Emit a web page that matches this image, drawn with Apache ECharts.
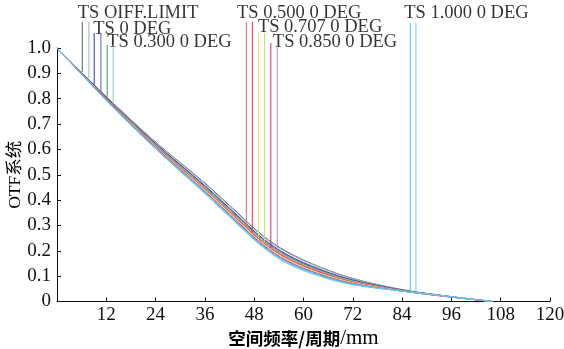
<!DOCTYPE html>
<html>
<head>
<meta charset="utf-8">
<script src="https://cdn.jsdelivr.net/npm/echarts@6/dist/echarts.min.js"></script>
<style>
  html, body { margin: 0; padding: 0; background: #fff; }
  #main { width: 564px; height: 349px; }
</style>
</head>
<body>
<div id="main"></div>
<script>
// 空间频率 (周期/mm)
var freq = [0, 12, 24, 36, 44, 50, 56, 64, 72, 84, 96, 106];

// 各视场 T / S 的 MTF 读数
var mtfDiffT = [1.0, 0.808, 0.629, 0.467, 0.349, 0.261, 0.196, 0.136, 0.091, 0.047, 0.019, 0];
var mtfDiffS = [1.0, 0.807, 0.628, 0.464, 0.346, 0.258, 0.193, 0.134, 0.090, 0.046, 0.019, 0];
var mtf0T    = [1.0, 0.805, 0.623, 0.457, 0.338, 0.250, 0.185, 0.127, 0.085, 0.045, 0.019, 0];
var mtf0S    = [1.0, 0.803, 0.621, 0.454, 0.335, 0.247, 0.182, 0.125, 0.084, 0.045, 0.018, 0];
var mtf03T   = [1.0, 0.802, 0.619, 0.450, 0.331, 0.243, 0.178, 0.122, 0.081, 0.044, 0.018, 0];
var mtf03S   = [1.0, 0.801, 0.617, 0.448, 0.328, 0.240, 0.175, 0.119, 0.080, 0.043, 0.018, 0];
var mtf05T   = [1.0, 0.800, 0.615, 0.445, 0.325, 0.237, 0.172, 0.117, 0.078, 0.043, 0.018, 0];
var mtf05S   = [1.0, 0.799, 0.613, 0.442, 0.322, 0.234, 0.169, 0.115, 0.076, 0.043, 0.018, 0];
var mtf07T   = [1.0, 0.798, 0.611, 0.440, 0.319, 0.231, 0.166, 0.112, 0.075, 0.042, 0.018, 0];
var mtf07S   = [1.0, 0.797, 0.610, 0.437, 0.316, 0.228, 0.163, 0.110, 0.073, 0.042, 0.018, 0];
var mtf085T  = [1.0, 0.796, 0.608, 0.434, 0.313, 0.225, 0.160, 0.107, 0.071, 0.041, 0.017, 0];
var mtf085S  = [1.0, 0.795, 0.606, 0.432, 0.310, 0.222, 0.157, 0.105, 0.070, 0.041, 0.017, 0];
var mtf1T    = [1.0, 0.794, 0.604, 0.429, 0.307, 0.219, 0.154, 0.103, 0.068, 0.041, 0.019, 0];
var mtf1S    = [1.0, 0.792, 0.602, 0.425, 0.303, 0.215, 0.150, 0.099, 0.066, 0.041, 0.019, 0];

var curves = [mtfDiffT, mtfDiffS, mtf0T, mtf0S, mtf03T, mtf03S, mtf05T, mtf05S,
              mtf07T, mtf07S, mtf085T, mtf085S, mtf1T, mtf1S];
var colors = ['#4f5f66', '#a6aeae', '#2c3a9a', '#5a62c8', '#3a9a6a', '#8ad0a8', '#ff5a70', '#e0306a',
              '#e2e46a', '#c8dc70', '#d02a78', '#b88ad8', '#3ac4ec', '#6ac8f0'];

// 图例竖线 (频率位置, 上端, 下端)
var legendX      = [6.15, 7.77, 9.06, 10.69, 12.22, 13.68, 46.08, 47.54, 49.07, 50.52, 52.05, 53.61, 85.99, 87.37];
var legendTop    = [1.103, 1.103, 1.059, 1.059, 1.012, 1.012, 1.103, 1.103, 1.059, 1.059, 1.020, 1.015, 1.099, 1.099];
var legendBottom = [0.905, 0.880, 0.855, 0.830, 0.805, 0.780, 0.295, 0.272, 0.252, 0.235, 0.212, 0.200, 0.040, 0.038];

// 图例文字
var legendNames = ['TS OIFF.LIMIT', 'TS 0 DEG', 'TS 0.300 0 DEG', 'TS 0.500 0 DEG',
                   'TS 0.707 0 DEG', 'TS 0.850 0 DEG', 'TS 1.000 0 DEG'];
var labelX = [5.03, 8.82, 12.22, 43.80, 48.90, 52.54, 84.53];
var labelY = [1.139, 1.075, 1.022, 1.139, 1.084, 1.022, 1.137];

var myChart = echarts.init(document.getElementById('main'));

var series = [];
curves.forEach(function (c, i) {
  series.push({
    type: 'line',
    smooth: 0.35,
    showSymbol: false,
    lineStyle: { width: 1, color: colors[i] },
    data: freq.map(function (f, k) { return [f, c[k]]; })
  });
});
legendX.forEach(function (x, i) {
  series.push({
    type: 'line',
    clip: false,
    showSymbol: false,
    lineStyle: { width: 1, color: colors[i] },
    data: [[x, legendTop[i]], [x, legendBottom[i]]]
  });
});
series.push({
  type: 'scatter',
  clip: false,
  symbolSize: 0,
  silent: true,
  label: {
    show: true,
    position: 'right',
    distance: 0,
    fontFamily: 'Liberation Serif',
    fontSize: 18.5,
    color: '#000',
    formatter: function (p) { return p.data[2]; }
  },
  data: labelX.map(function (x, i) { return [x, labelY[i], legendNames[i]]; })
});

var option = {
  animation: false,
  grid: { left: 57, right: 14, top: 48, bottom: 47.5, outerBoundsMode: 'none' },
  xAxis: {
    type: 'value',
    min: 0, max: 120, interval: 12,
    name: '{a|空间频率/周期}{b|/mm}',
    nameLocation: 'middle',
    nameGap: 26,
    nameMoveOverlap: false,
    nameTextStyle: {
      rich: {
        a: { fontFamily: 'Noto Sans CJK SC', fontWeight: 'bold', fontSize: 17.5, color: '#000' },
        b: { fontFamily: 'Liberation Serif', fontSize: 21, color: '#000' }
      }
    },
    axisLine: { lineStyle: { color: '#111', width: 1 } },
    axisTick: { inside: true, length: 4, lineStyle: { color: '#111' } },
    axisLabel: {
      margin: 4, fontFamily: 'Liberation Serif', fontSize: 19, color: '#111',
      formatter: function (v) { return v === 0 ? '' : v; }
    },
    splitLine: { show: false }
  },
  yAxis: {
    type: 'value',
    min: 0, max: 1, interval: 0.1,
    name: 'OTF系统',
    nameLocation: 'middle',
    nameGap: 33,
    nameMoveOverlap: false,
    nameTextStyle: { fontFamily: 'Liberation Serif, Noto Sans CJK SC', fontSize: 17.5, color: '#000' },
    axisLine: { show: true, lineStyle: { color: '#111', width: 1 } },
    axisTick: { show: true, inside: true, length: 4, lineStyle: { color: '#111' } },
    axisLabel: {
      margin: 6, fontFamily: 'Liberation Serif', fontSize: 19, color: '#111',
      formatter: function (v) { return v === 0 ? '0' : v.toFixed(1); }
    },
    splitLine: { show: false }
  },
  series: series
};

myChart.setOption(option);
</script>
</body>
</html>
